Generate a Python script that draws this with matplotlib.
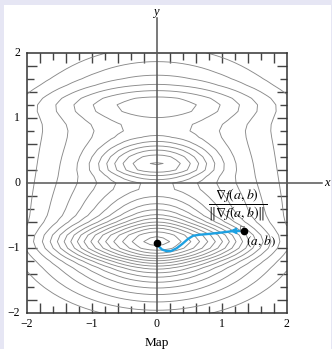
import matplotlib
matplotlib.use("Agg")
import matplotlib.pyplot as plt
from matplotlib.patches import Rectangle
import numpy as np

# terrain: broad hills (centre y, weight, eps, x-scale, y-scale up / down)
hill_y = [-0.9, 1.0]
hill_w = [1.0, 1.07]
hill_eps = [0.05, 0.6]
hill_ax = [2.0, 2.0]
hill_up = [1.6, 1.2]
hill_dn = [1.15, 1.2]

# sharper bumps (centre y, height, x-spread, y-spread above / below)
bump_y = [-0.9, 0.27, 1.2]
bump_h = [20.0, 7.0, 1.4]
bump_sx = [0.65, 0.45, 0.9]
bump_sup = [0.15, 0.20, 0.16]
bump_sdn = [0.15, 0.12, 0.16]

n_levels = 17

# steepest ascent path from (a, b) to the peak
path_x = [1.35, 1.2, 1.0, 0.82, 0.65, 0.56, 0.48, 0.40, 0.31, 0.22, 0.15, 0.08, 0.03, 0.0]
path_y = [-0.74, -0.735, -0.76, -0.78, -0.795, -0.81, -0.86, -0.93, -1.0, -1.045, -1.045, -1.02, -0.97, -0.92]

tick_vals = [-2, -1, 0, 1, 2]
tick_labels = ['\u22122', '\u22121', '0', '1', '2']
long_ticks = [-1.8, -1.4, -1.0, -0.6, -0.2, 0.2, 0.6, 1.0, 1.4, 1.8]
short_ticks = [-1.6, -1.2, -0.8, -0.4, 0.4, 0.8, 1.2, 1.6]

plt.rcParams['font.family'] = 'Liberation Serif'
plt.rcParams['mathtext.fontset'] = 'stix'

fig = plt.figure(figsize=(3.32, 3.49), dpi=100, facecolor='#e6e6f4')
fig.patches.append(Rectangle((4 / 332, 0), 327 / 332, 344 / 349, transform=fig.transFigure,
                             facecolor='white', edgecolor='none', zorder=-10))
ax = fig.add_axes([0.0804, 0.1023, 0.7831, 0.7467])

g = np.linspace(-2, 2, 41)
X, Y = np.meshgrid(g, g)
S = np.zeros_like(X)
for cy, w, eps, hx, hu, hd in zip(hill_y, hill_w, hill_eps, hill_ax, hill_up, hill_dn):
    hy = np.where(Y > cy, hu, hd)
    S += w / (eps + (X / hx) ** 2 + ((Y - cy) / hy) ** 2)
for cy, h, sx, su, sd in zip(bump_y, bump_h, bump_sx, bump_sup, bump_sdn):
    sy = np.where(Y > cy, su, sd)
    S += h * np.exp(-(X ** 2 / (2 * sx ** 2) + (Y - cy) ** 2 / (2 * sy ** 2)))
F = 4.5 * np.log(S)

levels = F.max() - 0.5 - np.arange(n_levels)[::-1]
ax.contour(X, Y, F, levels=levels, colors='#8a8a8a', linewidths=0.65, linestyles='solid')

# coordinate axes through the origin
ax.plot([-2, 2.54], [0, 0], color='#555555', lw=1.1, clip_on=False, zorder=3)
ax.plot([0, 0], [-2, 2.53], color='#555555', lw=1.1, clip_on=False, zorder=3)
ax.text(2.62, 0, 'x', fontstyle='italic', fontsize=9, ha='center', va='center')
ax.text(-0.02, 2.62, 'y', fontstyle='italic', fontsize=9, ha='center', va='center')

# path, arrow and points
ax.plot(path_x, path_y, color='#1da1e2', lw=1.7, zorder=4)
ax.annotate('', xy=(1.08, -0.735), xytext=(1.2, -0.735),
            arrowprops=dict(arrowstyle='-|>', color='#1da1e2', lw=1.2, mutation_scale=9), zorder=5)
ax.plot([path_x[0], path_x[-1]], [path_y[0], path_y[-1]], 'o', color='black', ms=4.5, zorder=6)
ax.plot([1.28, 1.28, 1.35], [-0.735, -0.665, -0.665], color='#777777', lw=0.6, zorder=4)

ax.text(1.38, -0.78, r'$(a,\, b)$', fontsize=9.5, ha='left', va='top')
ax.text(1.24, -0.33, r'$\dfrac{\nabla f(a,b)}{\|\nabla f(a,b)\|}$', fontsize=10, ha='center', va='center')

ax.set_xlim(-2, 2)
ax.set_ylim(-2, 2)
for s in ax.spines.values():
    s.set_color('#333333')
    s.set_linewidth(1.1)

ax.set_xticks(long_ticks)
ax.set_yticks(long_ticks)
ax.set_xticks(short_ticks, minor=True)
ax.set_yticks(short_ticks, minor=True)
ax.set_xticklabels([])
ax.set_yticklabels([])
ax.tick_params(which='major', direction='in', length=7, width=1.0, color='#444444',
               top=True, right=True)
ax.tick_params(which='minor', direction='in', length=5, width=1.0, color='#444444',
               top=True, right=True)

for v, lab in zip(tick_vals, tick_labels):
    ax.text(v, -2.17, lab, fontsize=8.5, ha='center', va='center')
    ax.text(-2.1, v, lab, fontsize=8.5, ha='right', va='center')

fig.text(157 / 332, 1 - 343 / 349, 'Map', fontsize=9.5, ha='center', va='center')

fig.savefig('out.png', dpi=100, facecolor=fig.get_facecolor())
